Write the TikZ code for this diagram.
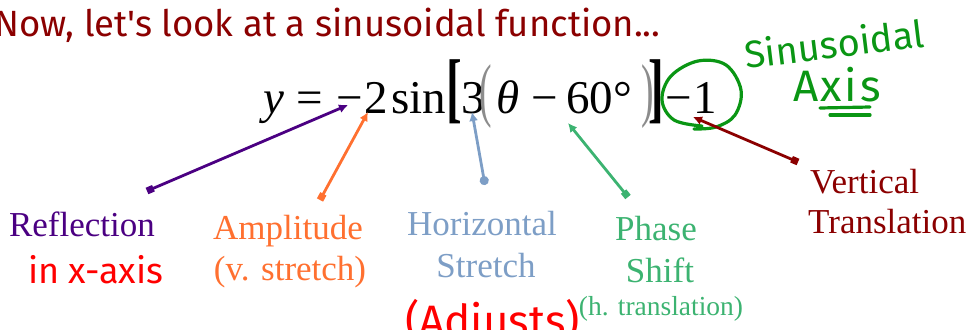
\documentclass[tikz,border=0pt]{standalone}
\usepackage{graphicx}
\usepackage{fontspec}
\setmainfont{Liberation Serif}
\newfontfamily\titlefont{Fira Sans}
\newfontfamily\handfont{Fira Sans}
\usetikzlibrary{arrows.meta}
\definecolor{titlered}{RGB}{139,0,0}
\definecolor{reflpurple}{RGB}{75,0,130}
\definecolor{amporange}{RGB}{255,112,48}
\definecolor{hsblue}{RGB}{125,158,198}
\definecolor{psgreen}{RGB}{60,179,113}
\definecolor{vtred}{RGB}{139,0,0}
\definecolor{penred}{RGB}{255,0,0}
\definecolor{pengreen}{RGB}{10,150,20}
\newcommand{\putat}[2]{\rlap{\hspace*{#1pt}#2}}
\newcommand{\bigbrk}[1]{\scalebox{1}[1.65]{\bfseries #1}}
\newcommand{\bigpar}[1]{\scalebox{0.8}[1.5]{\color{black!45}#1}}
\tikzset{
  lbl/.style={inner sep=0pt, font=\fontsize{35}{40}\selectfont},
  small lbl/.style={inner sep=0pt, font=\fontsize{27.5}{32}\selectfont},
  hand/.style={inner sep=0pt},
  conn/.style={line width=2.8pt, {Square[length=7pt,width=7pt]}-{Latex[length=9pt,width=9pt]}},
  dotconn/.style={line width=2.8pt, {Circle[length=9pt,width=9pt]}-{Latex[length=9pt,width=9pt]}},
  pen/.style={line width=3.2pt, line cap=round, line join=round}
}
\begin{document}
\begin{tikzpicture}[x=1pt,y=-1pt]
\useasboundingbox (0,0) rectangle (973,329);
% title
\node[inner sep=0pt, anchor=base west, text=titlered, font=\titlefont\fontsize{36.5}{40}\selectfont] (title) at (-6,37) {Now, let's look at a sinusoidal function...};
% equation
\node[inner sep=0pt, anchor=base west, font=\fontsize{47}{50}\selectfont] (eq) at (263,113) {%
\putat{0}{\textit{y}}%
\putat{33}{=}%
\putat{73}{−}%
\putat{101}{2}%
\putat{128}{sin}%
\putat{183}{\bigbrk{[}}%
\putat{198}{3}%
\putat{216}{\bigpar{(}}%
\putat{233}{\textit{θ}}%
\putat{268}{−}%
\putat{303}{60°}%
\putat{378}{\bigpar{)}}%
\putat{385}{\bigbrk{]}}%
\putat{402}{−}%
\putat{430}{1}%
\hspace*{455pt}};
% labels
\node[lbl, anchor=base, text=reflpurple] (refl) at (82,236) {Reflection};
\node[lbl, anchor=base, text=amporange] (amp) at (288,239) {Amplitude};
\node[lbl, anchor=base, text=amporange] (ampb) at (290,280) {(v. stretch)};
\node[lbl, anchor=base, text=hsblue] (hs) at (482,235) {Horizontal};
\node[lbl, anchor=base, text=hsblue] (hsb) at (486,277) {Stretch};
\node[lbl, anchor=base, text=psgreen] (ps) at (656,240) {Phase};
\node[lbl, anchor=base, text=psgreen] (psb) at (660,282) {Shift};
\node[small lbl, anchor=base, text=psgreen] (psc) at (661,315) {(h. translation)};
\node[lbl, anchor=base west, text=vtred] (vt) at (810,193) {Vertical};
\node[lbl, anchor=base west, text=vtred] (vtb) at (808,233) {Translation};
% handwritten notes
\node[hand, anchor=base west, rotate=7, text=pengreen, font=\handfont\fontsize{38}{42}\selectfont] (sinax) at (746,69) {Sinusoidal};
\node[hand, anchor=base west, text=pengreen, font=\handfont\fontsize{44}{48}\selectfont] (axis) at (793,101) {A\hspace{2pt}x\hspace{3pt}i\hspace{3pt}s};
\coordinate (ul1a) at (820,108); \coordinate (ul1b) at (870,107);
\coordinate (ul2a) at (830,115); \coordinate (ul2b) at (870,115);
\draw[pen, pengreen] (ul1a) -- (ul1b);
\draw[pen, pengreen] (ul2a) -- (ul2b);
\node[hand, anchor=base west, text=penred, font=\handfont\fontsize{36}{40}\selectfont] (inx) at (28,283) {in x-axis};
\node[hand, anchor=base west, text=penred, font=\handfont\fontsize{44}{48}\selectfont] (adj) at (405,336) {(Adjusts)};
% circle round -1
\draw[pen, pengreen] plot[smooth, tension=0.6] coordinates {(702,126) (674,120) (662,100) (671,76) (698,61) (726,65) (741,90) (735,115) (716,127) (694,129)};
% connectors
\coordinate (t1) at (147,191); \coordinate (h1) at (348,105);
\coordinate (t2) at (320,200); \coordinate (h2) at (368,112);
\coordinate (t3) at (485,185); \coordinate (h3) at (472,112);
\coordinate (t4) at (628,197); \coordinate (h4) at (568,123);
\coordinate (t5) at (798,162); \coordinate (h5) at (693,117);
\draw[conn, reflpurple] (t1) -- (h1);
\draw[conn, amporange] (t2) -- (h2);
\draw[dotconn, hsblue] (t3) -- (h3);
\draw[conn, psgreen] (t4) -- (h4);
\draw[conn, vtred] (t5) -- (h5);
\end{tikzpicture}
\end{document}
